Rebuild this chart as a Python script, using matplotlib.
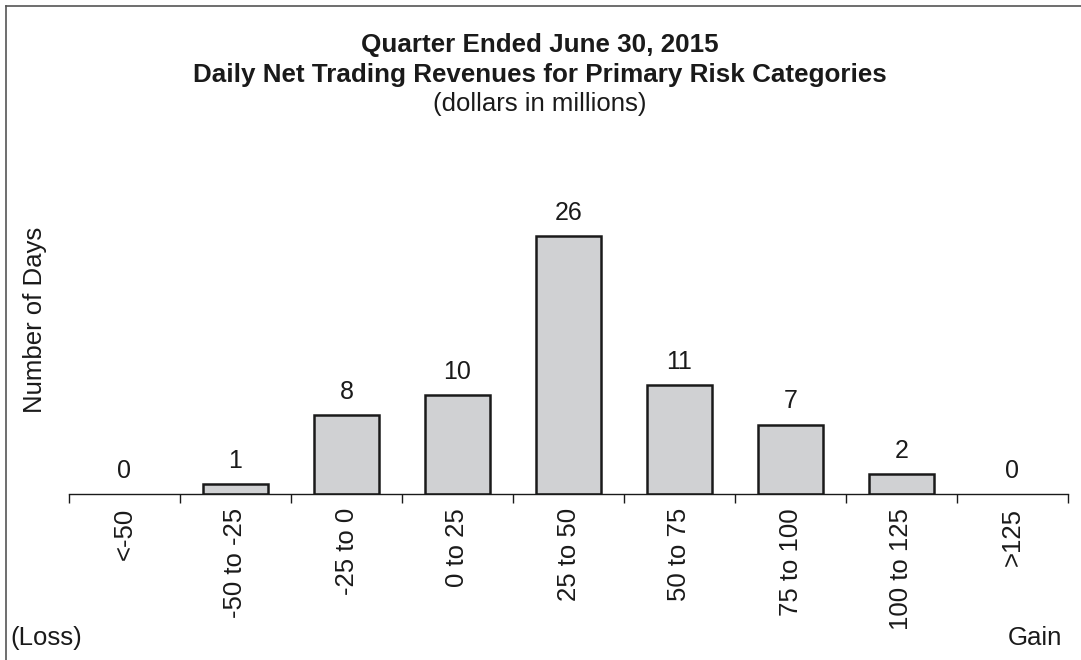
import matplotlib.pyplot as plt
from matplotlib.lines import Line2D

# Histogram of daily net trading revenues (dollars in millions)
categories = ["<-50", "-50 to -25", "-25 to 0", "0 to 25", "25 to 50",
              "50 to 75", "75 to 100", "100 to 125", ">125"]
days = [0, 1, 8, 10, 26, 11, 7, 2, 0]

title_lines = ["Quarter Ended June 30, 2015",
               "Daily Net Trading Revenues for Primary Risk Categories"]
subtitle = "(dollars in millions)"

plt.rcParams["font.family"] = ["Liberation Sans", "DejaVu Sans"]
ink = "#1a1a1a"

W, H = 1081, 660
fig = plt.figure(figsize=(W / 100, H / 100), dpi=100)

ax = fig.add_axes([69 / W, 1 - 494 / H, (1068 - 69) / W, (494 - 196.4) / H])
x = list(range(len(categories)))
# empty bins get no outline
edges = [ink if v > 0 else "none" for v in days]
ax.bar(x, days, width=0.59, color="#d0d1d3", edgecolor=edges, linewidth=1.8)

for xi, v in zip(x, days):
    ax.annotate(str(v), (xi, v), xytext=(0, 8), textcoords="offset points",
                ha="center", va="bottom", fontsize=18, color=ink)

ax.set_xlim(-0.5, len(categories) - 0.5)
ax.set_ylim(0, 30)

for side in ["top", "right", "left"]:
    ax.spines[side].set_visible(False)
ax.spines["bottom"].set_color(ink)
ax.spines["bottom"].set_linewidth(1.0)

ax.set_yticks([])
ax.set_xticks(x)
ax.set_xticklabels(categories, rotation=90, fontsize=18.5, color=ink, va="top")
ax.tick_params(axis="x", which="major", length=0, pad=10)
ax.set_xticks([i - 0.5 for i in range(len(categories) + 1)], minor=True)
ax.tick_params(axis="x", which="minor", length=6.5, width=1.0, color=ink)

fig.text(540 / W, 1 - 45 / H, title_lines[0], ha="center", va="center",
         fontsize=18.7, fontweight="bold", color=ink)
fig.text(540 / W, 1 - 75 / H, title_lines[1], ha="center", va="center",
         fontsize=18.7, fontweight="bold", color=ink)
fig.text(540 / W, 1 - 104 / H, subtitle, ha="center", va="center",
         fontsize=18.5, color=ink)

fig.text(35 / W, 1 - 320 / H, "Number of Days", rotation=90, ha="center",
         va="center", fontsize=18.5, color=ink)
fig.text(10 / W, 1 - 638 / H, "(Loss)", ha="left", va="center",
         fontsize=18.5, color=ink)
fig.text(1062 / W, 1 - 638 / H, "Gain", ha="right", va="center",
         fontsize=18.5, color=ink)

# frame visible only at the top and left edges
fig.add_artist(Line2D([6 / W, 6 / W], [0, 1 - 5.5 / H], color="#555555", linewidth=1.2))
fig.add_artist(Line2D([6 / W, 1], [1 - 5.5 / H, 1 - 5.5 / H], color="#555555", linewidth=1.2))

fig.savefig("out.png", dpi=100, facecolor="white")
